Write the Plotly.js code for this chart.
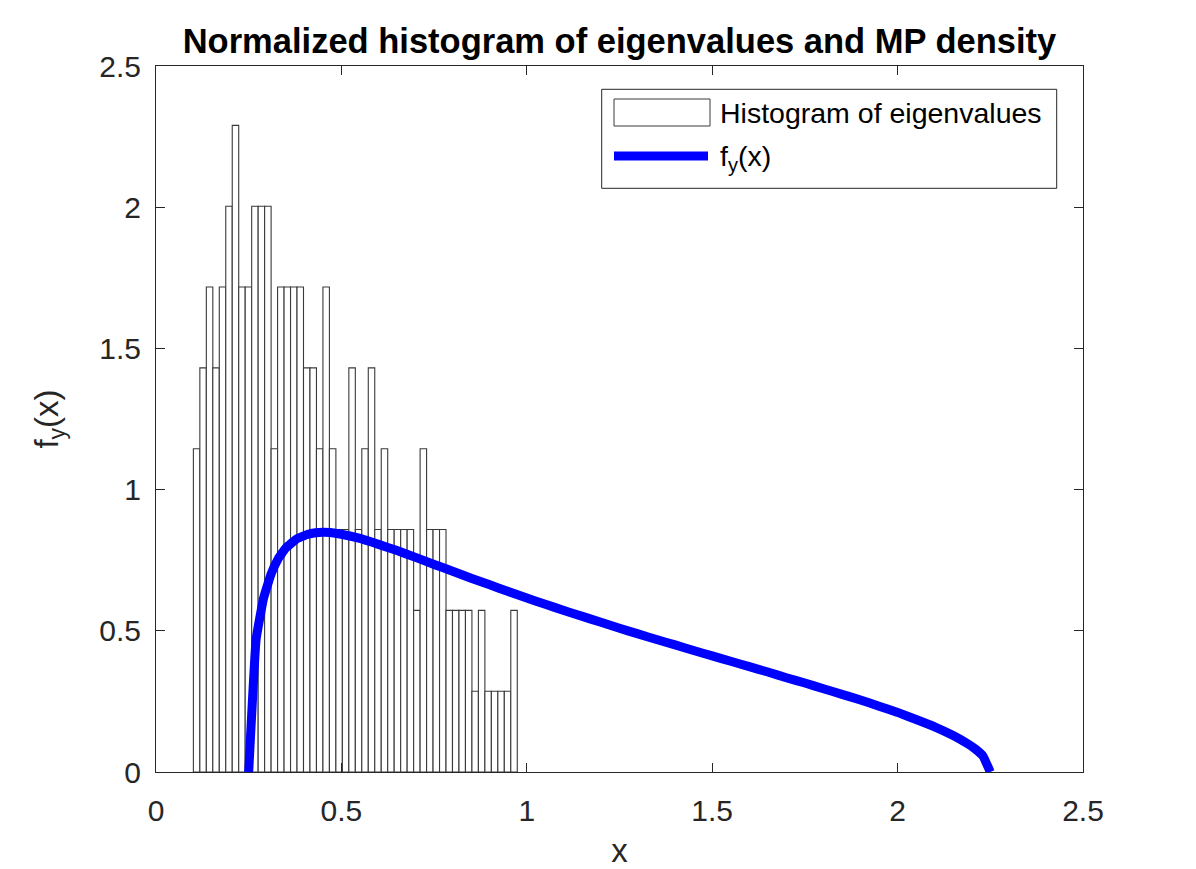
<!DOCTYPE html>
<html>
<head>
<meta charset="utf-8">
<script src="https://cdn.plot.ly/plotly-3.0.1.min.js"></script>
<style>
  html, body { margin: 0; padding: 0; background: #ffffff; }
  #chart { width: 1196px; height: 869px; }
</style>
</head>
<body>
<div id="chart"></div>
<script>
// ---- Data ----
// Histogram: 50 equal bins, counts of eigenvalues per bin
const binStart = 0.1008;
const binWidth = 0.01747;
const binCounts = [4,5,6,5,6,7,8,6,6,7,7,7,4,6,6,6,6,5,5,4,6,4,3,3,5,3,4,5,3,4,3,3,3,3,2,4,3,3,3,2,2,2,2,1,2,1,1,1,1,2];

// MP density curve f_y(x)
const curveX = [0.25,0.27,0.29,0.31,0.33,0.35,0.38,0.41,0.43,0.45,0.47,0.50,0.55,0.60,0.65,0.70,0.75,0.80,0.85,0.90,0.95,1.00,1.05,1.10,1.15,1.20,1.25,1.30,1.35,1.40,1.45,1.50,1.55,1.60,1.65,1.70,1.75,1.80,1.85,1.90,1.95,2.00,2.05,2.10,2.15,2.19,2.21,2.23,2.25];
const curveY = [0.00,0.47,0.615,0.70,0.756,0.793,0.826,0.842,0.847,0.849,0.848,0.842,0.827,0.806,0.784,0.760,0.735,0.711,0.686,0.663,0.639,0.616,0.594,0.572,0.551,0.530,0.509,0.489,0.469,0.450,0.430,0.411,0.392,0.373,0.354,0.334,0.315,0.295,0.275,0.255,0.233,0.211,0.186,0.160,0.129,0.099,0.081,0.057,0.00];

const titleText = "Normalized histogram of eigenvalues and MP density";
const legendHist = "Histogram of eigenvalues";
const legendCurve = "f<sub>y</sub>(x)";
const xTitle = "x";
const yTitle = "f<sub>y</sub>(x)";
const tickVals = [0, 0.5, 1, 1.5, 2, 2.5];
const tickText = ["0", "0.5", "1", "1.5", "2", "2.5"];

// ---- Derived histogram (normalized as a pdf) ----
const nSamples = binCounts.reduce((a, b) => a + b, 0);
const binCenters = binCounts.map((_, i) => binStart + (i + 0.5) * binWidth);
const binDensity = binCounts.map(c => c / (nSamples * binWidth));

const FONT = "Liberation Sans, Arial, Helvetica, sans-serif";

// pixel -> paper helpers for the hand-made legend (plot area 156..1083 x 66..772)
const L = 156, R = 1083, T = 66, B = 772;
const px = x => (x - L) / (R - L);
const py = y => (B - y) / (B - T);

const traces = [
  {
    type: "bar",
    x: binCenters,
    y: binDensity,
    width: binWidth,
    marker: { color: "#ffffff", line: { color: "#3a3a3a", width: 1.1 } },
    showlegend: false,
    hoverinfo: "x+y"
  },
  {
    type: "scatter",
    mode: "lines",
    x: curveX,
    y: curveY,
    line: { color: "#0000ff", width: 9, shape: "spline", smoothing: 0.3 },
    showlegend: false
  }
];

const axisCommon = {
  range: [0, 2.5],
  tickvals: tickVals,
  ticktext: tickText,
  ticks: "inside",
  ticklen: 9,
  tickwidth: 1,
  tickcolor: "#262626",
  showline: true,
  linecolor: "#262626",
  linewidth: 1,
  mirror: "ticks",
  showgrid: false,
  zeroline: false,
  tickfont: { family: FONT, size: 30, color: "#262626" },
  fixedrange: true
};

const layout = {
  width: 1196,
  height: 869,
  paper_bgcolor: "#ffffff",
  plot_bgcolor: "#ffffff",
  margin: { l: L, r: 1196 - R, t: T, b: 869 - B, pad: 0 },
  title: {
    text: "<b>" + titleText + "</b>",
    font: { family: FONT, size: 34.5, color: "#000000" },
    x: 619.5 / 1196,
    xanchor: "center",
    xref: "container",
    y: 1 - 41 / 869,
    yanchor: "middle",
    yref: "container"
  },
  xaxis: Object.assign({}, axisCommon, {
    ticklabelstandoff: 12,
    title: { text: xTitle, font: { family: FONT, size: 33, color: "#262626" }, standoff: 12 }
  }),
  yaxis: Object.assign({}, axisCommon, {
    ticklabelstandoff: 8,
    title: { text: yTitle, font: { family: FONT, size: 33, color: "#262626" }, standoff: 30 }
  }),
  shapes: [
    { type: "rect", xref: "paper", yref: "paper", x0: px(601.7), x1: px(1056.7), y0: py(188.3), y1: py(89.3),
      line: { color: "#262626", width: 1 }, fillcolor: "#ffffff" },
    { type: "rect", xref: "paper", yref: "paper", x0: px(614), x1: px(710), y0: py(126), y1: py(99),
      line: { color: "#3a3a3a", width: 1 }, fillcolor: "#ffffff" },
    { type: "line", xref: "paper", yref: "paper", x0: px(614), x1: px(708), y0: py(156), y1: py(156),
      line: { color: "#0000ff", width: 9 } }
  ],
  annotations: [
    { xref: "paper", yref: "paper", x: px(718), y: py(113), xanchor: "left", yanchor: "middle",
      text: legendHist, showarrow: false, font: { family: FONT, size: 28.5, color: "#000000" } },
    { xref: "paper", yref: "paper", x: px(718), y: py(158), xanchor: "left", yanchor: "middle",
      text: legendCurve, showarrow: false, font: { family: FONT, size: 28.5, color: "#000000" } }
  ]
};

Plotly.newPlot("chart", traces, layout, { displayModeBar: false, staticPlot: true });
</script>
</body>
</html>
